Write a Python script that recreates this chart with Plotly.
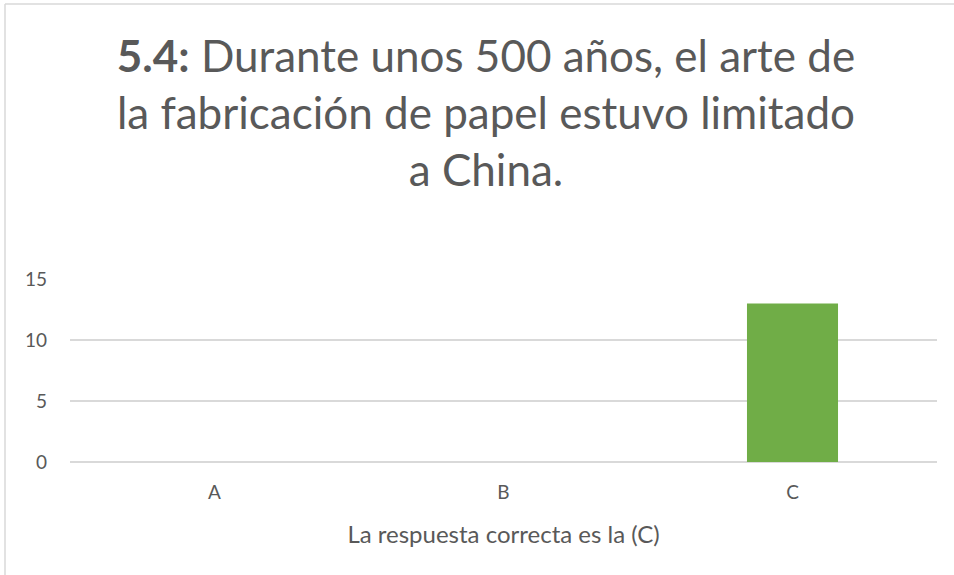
"""Excel-style single question bar chart, rebuilt with Plotly."""
import plotly.graph_objects as go

W, H = 954, 575
ML, MR, MT, MB = 70, 17, 279, 113

categories = ["A", "B", "C"]
counts = [0, 0, 13]
y_ticks = [0, 5, 10, 15]

title_text = (
    "<b>5.4:</b> Durante unos 500 años, el arte de<br>"
    "la fabricación de papel estuvo limitado<br>"
    "a China."
)
x_title = "La respuesta correcta es la (C)"

GREY = "#595959"
FONT = "Lato, 'Open Sans', sans-serif"

fig = go.Figure()
fig.add_trace(
    go.Bar(
        x=categories,
        y=counts,
        marker=dict(color="#70ad47", line=dict(width=0)),
        showlegend=False,
    )
)

# thin chart-area border on the left and top edges (pixels -> paper coords)
pw, ph = W - ML - MR, H - MT - MB
px = lambda v: (v - ML) / pw
py = lambda v: (H - MB - v) / ph
for x0, y0, x1, y1 in [(5, 4, 5, H), (5, 4, W, 4)]:
    fig.add_shape(
        type="line", xref="paper", yref="paper",
        x0=px(x0), y0=py(y0), x1=px(x1), y1=py(y1),
        line=dict(color="#d9d9d9", width=1.5),
    )

fig.update_layout(
    width=W,
    height=H,
    plot_bgcolor="white",
    paper_bgcolor="white",
    margin=dict(l=ML, r=MR, t=MT, b=MB),
    bargap=0.685,
    font=dict(family=FONT, color=GREY),
    title=dict(
        text=title_text,
        x=486 / W,
        xanchor="center",
        xref="container",
        y=1 - 72 / H,
        yanchor="top",
        font=dict(family=FONT, size=44, color=GREY),
    ),
    xaxis=dict(
        showgrid=False,
        showline=False,
        ticks="",
        ticklabelstandoff=17,
        tickfont=dict(size=19, color=GREY),
        title=dict(text=x_title, font=dict(size=24, color=GREY), standoff=24),
    ),
    yaxis=dict(
        range=[0, 15],
        tickvals=y_ticks,
        showgrid=True,
        gridcolor="#d9d9d9",
        gridwidth=1.5,
        zeroline=True,
        zerolinecolor="#d9d9d9",
        zerolinewidth=1.5,
        showline=False,
        ticks="",
        ticklabelstandoff=22,
        tickfont=dict(size=19, color=GREY),
    ),
)

fig.write_html(
    "out.html",
    config={"displayModeBar": False},
    post_script="document.body.style.margin='0';",
)
